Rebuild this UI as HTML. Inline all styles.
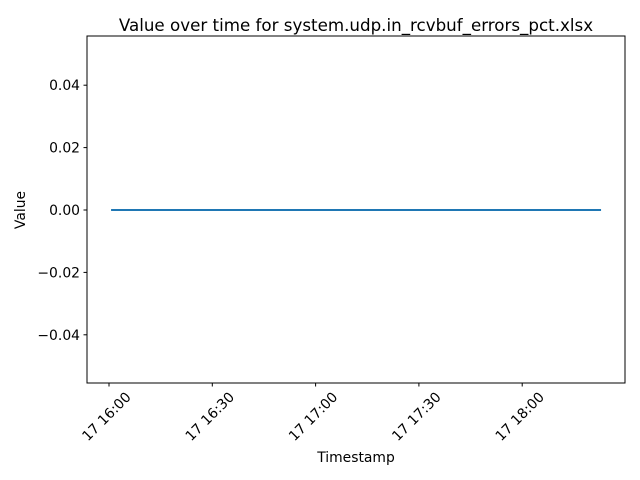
<!DOCTYPE html>
<html><head><meta charset="utf-8"><style>
body{margin:0;background:#fff;}
svg{display:block;font-family:"DejaVu Sans","Liberation Sans",sans-serif;}
</style></head><body>
<svg id="chart" width="640" height="480">
<rect x="0" y="0" width="640" height="480" fill="#fff"/>
<text x="356" y="31" text-anchor="middle" font-size="16.7">Value over time for system.udp.in_rcvbuf_errors_pct.xlsx</text>
<g id="plot"></g>
<rect x="87" y="36" width="538" height="347" fill="none" stroke="#000" stroke-width="1"/>
<text x="356" y="462" text-anchor="middle" font-size="13.9">Timestamp</text>
<text transform="translate(25,210) rotate(-90)" text-anchor="middle" font-size="13.9">Value</text>
</svg>
<script>
// minutes after 16:00
const times = [0.6, 30, 60, 90, 120, 142.9];
const values = [0, 0, 0, 0, 0, 0];
const yTicks = [-0.04, -0.02, 0.00, 0.02, 0.04];
const yTickLabels = ["\u22120.04", "\u22120.02", "0.00", "0.02", "0.04"];
const xTicks = [0, 30, 60, 90, 120];
const xTickLabels = ["17 16:00", "17 16:30", "17 17:00", "17 17:30", "17 18:00"];

const NS = "http://www.w3.org/2000/svg";
const g = document.getElementById("plot");
const xS = m => 109 + m * (103.3 / 30);
const yS = v => 210 - v * (62.4 / 0.02);
function mk(t, a) { const e = document.createElementNS(NS, t); for (const k in a) e.setAttribute(k, a[k]); g.appendChild(e); return e; }

yTicks.forEach((v, i) => {
  const y = yS(v);
  const t = mk("line", {x1: 83.5, x2: 87, y1: y, y2: y, stroke: "#000"});
  
  
  const l = mk("text", {x: 80, y: y + 5, "text-anchor": "end", "font-size": "13.9"});
  l.textContent = yTickLabels[i];
  
  
});
xTicks.forEach((m, i) => {
  const x = xS(m);
  const t = mk("line", {x1: x, x2: x, y1: 383, y2: 386.5, stroke: "#000"});
  
  
  const l = mk("text", {x: 0, y: 0, "text-anchor": "middle", "dominant-baseline": "central", "font-size": "13.9", transform: `translate(${x - 2},${417}) rotate(-45)`});
  l.textContent = xTickLabels[i];
  
  
});
const pts = times.map((m, i) => xS(m) + "," + yS(values[i])).join(" ");
const line = mk("polyline", {points: pts, fill: "none", stroke: "#1f77b4", "stroke-width": 2});


</script>
</body></html>
